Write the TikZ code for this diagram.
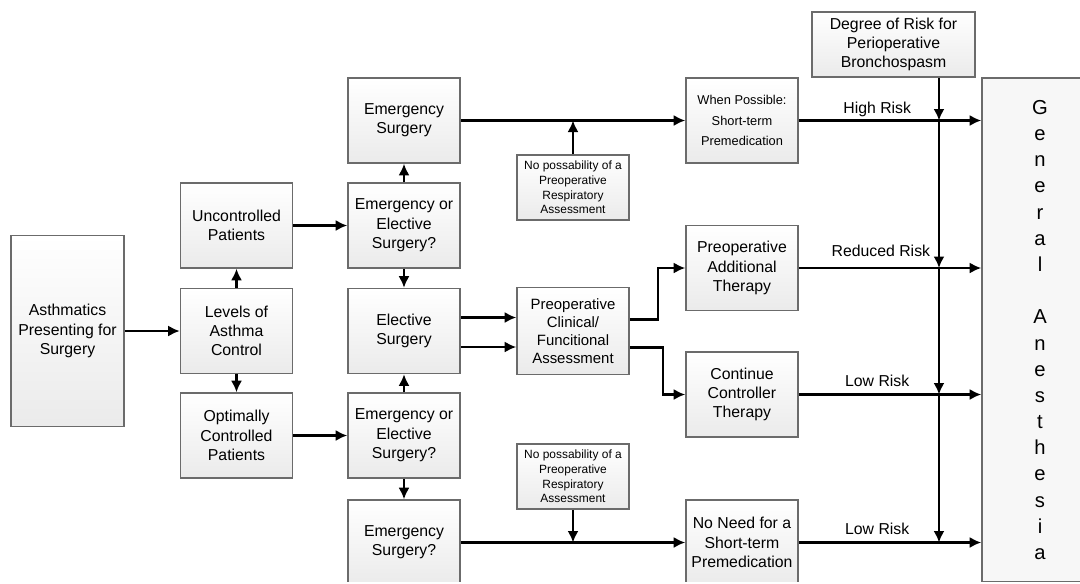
\documentclass[tikz,border=0pt]{standalone}
\usepackage{fontspec}
\setmainfont{Liberation Sans}
\usetikzlibrary{arrows.meta}

\begin{document}
\begin{tikzpicture}[x=0.02cm, y=-0.02cm, line width=1.2pt, >={Latex[length=2.3mm,width=2.2mm]},
  main/.style = {draw=black!58, line width=0.9pt, top color=white, bottom color=black!8, minimum width=2.24cm, minimum height=1.7cm, inner sep=1pt, align=center, font=\fontsize{9}{11}\selectfont},
  note/.style = {main, minimum height=1.3cm, font=\fontsize{6.8}{8.3}\selectfont},
  risk/.style = {font=\fontsize{9}{11}\selectfont, inner sep=0pt}]
\useasboundingbox (0,0) rectangle (1080,583);
\clip (0,0) rectangle (1080,581.5);
\node[main, minimum width=2.26cm, minimum height=3.82cm] (1) at (67.5,331) {Asthmatics\\Presenting for\\Surgery};
\node[main] (2) at (236.5,225.5) {Uncontrolled\\Patients};
\node[main] (3) at (236.5,331) {Levels of\\Asthma\\Control};
\node[main] (4) at (236.5,435.5) {Optimally\\Controlled\\Patients};
\node[main] (5) at (404,120.5) {Emergency\\Surgery};
\node[main] (6) at (404,225.5) {Emergency or\\Elective\\Surgery?};
\node[main] (7) at (404,331) {Elective\\Surgery};
\node[main] (8) at (404,435.5) {Emergency or\\Elective\\Surgery?};
\node[main] (9) at (404,542.5) {Emergency\\Surgery?};
\node[note] (10) at (573,187.5) {No possability of a\\Preoperative\\Respiratory\\Assessment};
\node[main, minimum height=1.74cm, font=\fontsize{8.5}{10.3}\selectfont] (11) at (573,331) {Preoperative\\Clinical/\\Funcitional\\Assessment};
\node[note] (12) at (573,476.5) {No possability of a\\Preoperative\\Respiratory\\Assessment};
\node[main, font=\fontsize{7.3}{11.5}\selectfont] (13) at (742,120.5) {When Possible:\\Short-term\\Premedication};
\node[main] (14) at (742,268) {Preoperative\\Additional\\Therapy};
\node[main] (15) at (742,394.5) {Continue\\Controller\\Therapy};
\node[main] (16) at (742,542.5) {No Need for a\\Short-term\\Premedication};
\node[main, minimum width=3.26cm, minimum height=1.3cm] (17) at (893.5,44.5) {Degree of Risk for\\Perioperative\\Bronchospasm};
\node[main, top color=black!3, bottom color=black!3, minimum width=2.32cm, minimum height=10.08cm, font=\fontsize{11.5}{14.9}\selectfont] (18) at (1040,330) {G\\e\\n\\e\\r\\a\\l\\[14.9pt]A\\n\\e\\s\\t\\h\\e\\s\\i\\a};
\draw[->] (1) -- (3);
\draw[->] (3) -- (2);
\draw[->] (3) -- (4);
\draw[->] (2) -- (6);
\draw[->] (4) -- (8);
\draw[->] (6) -- (5);
\draw[->] (6) -- (7);
\draw[->] (8) -- (7);
\draw[->] (8) -- (9);
\draw[->] (5) -- (13);
\draw[->] (10) -- (10 |- 5);
\draw[->] ([yshift=2.7mm]7.east) -- ([yshift=2.7mm]7.east -| 11.west);
\draw[->] ([yshift=-3.2mm]7.east) -- ([yshift=-3.2mm]7.east -| 11.west);
\draw[->] ([yshift=2.3mm]11.east) -- ++(28,0) |- (14);
\draw[->] ([yshift=-3.3mm]11.east) -- ++(33,0) |- (15);
\draw[->] (9) -- (16);
\draw[->] (12) -- (12 |- 9);
\draw[->] (13) -- node[risk, pos=.43, yshift=2.3mm] {High Risk} (13 -| 18.west);
\draw[->] (14) -- node[risk, pos=.45, yshift=3.4mm] {Reduced Risk} (14 -| 18.west);
\draw[->] (15) -- node[risk, pos=.43, yshift=2.8mm] {Low Risk} (15 -| 18.west);
\draw[->] (16) -- node[risk, pos=.43, yshift=2.8mm] {Low Risk} (16 -| 18.west);
\coordinate (r) at ([xshift=9.1mm]17.south);
\draw[->] (r) -- (r |- 13);
\draw[->] (r |- 13) -- (r |- 14);
\draw[->] (r |- 14) -- (r |- 15);
\draw[->] (r |- 15) -- (r |- 16);
\end{tikzpicture}
\end{document}
